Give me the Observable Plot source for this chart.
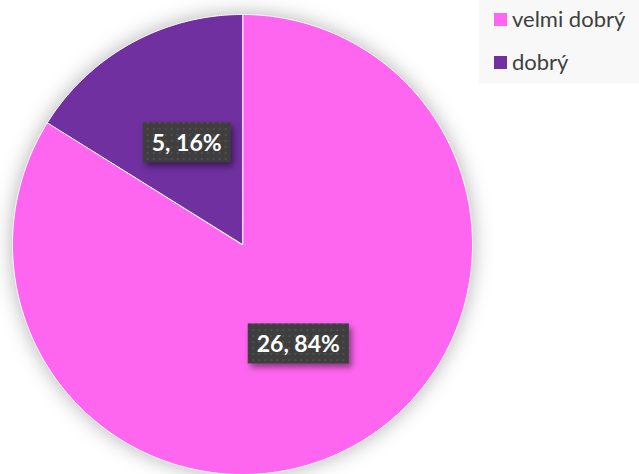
<!DOCTYPE html>
<html><head><meta charset="utf-8">
<script src="https://cdn.jsdelivr.net/npm/d3@7"></script>
<script src="https://cdn.jsdelivr.net/npm/@observablehq/plot@0.6"></script>
<style>
body{margin:0;background:#fff;}
#wrap{position:relative;width:639px;height:474px;overflow:hidden;background:#fff;}
.legend{position:absolute;left:479px;top:0;width:160px;height:83px;background:#f8f8f8;font-family:Lato,"Open Sans",sans-serif;font-size:22px;color:#404040;}
.legend .sw{position:absolute;left:15px;width:13px;height:13px;}
.legend .tx{position:absolute;left:33px;line-height:24px;white-space:nowrap;}
.slices{filter:drop-shadow(0 0 10px rgba(0,0,0,0.3));}
.lblbox{filter:drop-shadow(3px 4px 3px rgba(0,0,0,0.45));}
</style>
</head><body>
<div id="wrap"></div>
<script>
const categories = ["velmi dobrý", "dobrý"];
const counts = [26, 5];
const percentLabels = ["84%", "16%"];
const colors = ["#FF66F0", "#7030A0"];

const pie = d3.pie().sort(null).value(d => d.count)(
  categories.map((name, i) => ({name, count: counts[i], pct: percentLabels[i]}))
);
const points = [];
for (const a of pie) {
  points.push({name: a.data.name, x: 0, y: 0});
  const steps = Math.max(2, Math.ceil((a.endAngle - a.startAngle) / (Math.PI / 360)));
  for (let k = 0; k <= steps; k++) {
    const t = a.startAngle + (a.endAngle - a.startAngle) * k / steps;
    points.push({name: a.data.name, x: Math.sin(t), y: Math.cos(t)});
  }
}
const labels = pie.map(a => {
  const m = (a.startAngle + a.endAngle) / 2;
  return {x: 0.5 * Math.sin(m), y: 0.5 * Math.cos(m), text: `${a.data.count}, ${a.data.pct}`};
});

const R = 230, CX = 242, CY = 244, W = 639, H = 474;
const chart = Plot.plot({
  width: W, height: H, margin: 0,
  x: {domain: [-CX / R, (W - CX) / R], axis: null},
  y: {domain: [-(H - CY) / R, CY / R], axis: null},
  color: {domain: categories, range: colors},
  style: {background: "transparent", overflow: "visible"},
  marks: [
    Plot.line(points, {x: "x", y: "y", z: "name", fill: "name", stroke: "white", strokeWidth: 1, curve: "linear-closed", className: "slices"}),
    Plot.text(labels, {x: "x", y: "y", text: "text", fill: "white", fontSize: 23, fontWeight: "bold", fontFamily: "Lato, 'Open Sans', sans-serif", className: "lbl"})
  ]
});
const wrap = document.getElementById("wrap");
wrap.appendChild(chart);

const ns = "http://www.w3.org/2000/svg";
const defs = document.createElementNS(ns, "defs");
defs.innerHTML = '<pattern id="dots" width="6" height="6" patternUnits="userSpaceOnUse"><rect width="6" height="6" fill="#3e3e3e"/><rect x="2" y="2" width="2" height="2" fill="#4e4e4e"/></pattern>';
chart.insertBefore(defs, chart.firstChild);
chart.querySelectorAll("g.lbl text").forEach(t => {
  const bb = t.getBBox();
  const r = document.createElementNS(ns, "rect");
  const cy = bb.y + bb.height / 2;
  r.setAttribute("x", bb.x - 9);
  r.setAttribute("width", bb.width + 18);
  r.setAttribute("y", cy - 20);
  r.setAttribute("height", 40);
  r.setAttribute("fill", "url(#dots)");
  r.setAttribute("class", "lblbox");
  if (t.getAttribute("transform")) r.setAttribute("transform", t.getAttribute("transform"));
  t.parentNode.insertBefore(r, t);
});

const lg = document.createElement("div");
lg.className = "legend";
const tops = [13, 56];
categories.forEach((c, i) => {
  const sw = document.createElement("div");
  sw.className = "sw"; sw.style.top = tops[i] + "px"; sw.style.background = colors[i];
  const tx = document.createElement("div");
  tx.className = "tx"; tx.style.top = (tops[i] - 6) + "px"; tx.textContent = c;
  lg.appendChild(sw); lg.appendChild(tx);
});
wrap.appendChild(lg);
</script>
</body></html>
